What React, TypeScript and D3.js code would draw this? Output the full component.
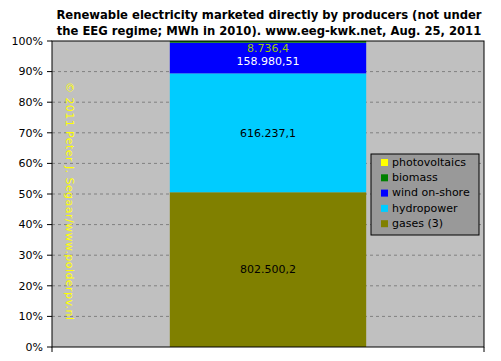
import React from 'react';
import * as d3 from 'd3';

// data (MWh in 2010)
const sources = ['gases (3)', 'hydropower', 'wind on-shore', 'biomass', 'photovoltaics'];
const values = [802500.2, 616237.1, 158980.51, 8736.4, 120];
const labels = ['802.500,2', '616.237,1', '158.980,51', '8.736,4', ''];
const colors = ['#808000', '#00ccff', '#0000ff', '#008000', '#ffff00'];
const labelColors = ['#000000', '#000000', '#ffffff', '#99cc00', '#000000'];
const yTicks = [0, 0.1, 0.2, 0.3, 0.4, 0.5, 0.6, 0.7, 0.8, 0.9, 1];
const titleLines = [
    'Renewable electricity marketed directly by producers (not under',
    'the EEG regime; MWh in 2010). www.eeg-kwk.net, Aug. 25, 2011',
];

export default function App() {
    const width = 501;
    const height = 361;
    const margin = { top: 41, right: 17, bottom: 14, left: 52 };
    const boundedWidth = width - margin.left - margin.right;
    const boundedHeight = height - margin.top - margin.bottom;
    const font = 'Verdana, "DejaVu Sans", sans-serif';

    const total = d3.sum(values);
    const yScale = d3.scaleLinear().domain([0, 1]).range([boundedHeight, 0]);
    const xScale = d3.scaleBand().domain(['2010']).range([0, boundedWidth]).paddingInner(0).paddingOuter(0.6);

    // stack the shares
    let acc = 0;
    const segments = values.map((v, i) => {
        const y0 = acc / total;
        acc += v;
        return { name: sources[i], y0, y1: acc / total, i };
    });

    const legendOrder = [...sources.keys()].reverse();

    return (
        <svg width={width} height={height} style={{ position: 'absolute', left: 0, top: 0, background: '#fff' }}>
            {titleLines.map((t, i) => (
                <text key={i} x={269} y={19 + i * 16} textAnchor="middle" fontFamily={font}
                    fontWeight="bold" fontSize="11.6" fill="#000">{t}</text>
            ))}
            <g transform={`translate(${margin.left}, ${margin.top})`}>
                <rect x={0} y={0} width={boundedWidth} height={boundedHeight} fill="#c0c0c0" />
                {/* grid lines */}
                {yTicks.slice(1, -1).map(t => (
                    <line key={t} x1={0} x2={boundedWidth} y1={yScale(t)} y2={yScale(t)}
                        stroke="#808080" strokeDasharray="3,3" />
                ))}
                {/* bar segments */}
                {segments.map(s => (
                    <rect key={s.name} x={xScale('2010')} width={xScale.bandwidth()}
                        y={yScale(s.y1)} height={yScale(s.y0) - yScale(s.y1)} fill={colors[s.i]} />
                ))}
                {/* data labels */}
                {segments.map(s => labels[s.i] ? (
                    <text key={s.name} x={xScale('2010') + xScale.bandwidth() / 2}
                        y={s.i === 3 ? yScale(s.y1) + 7 : s.i === 2 ? yScale(s.y0) - 12 : (yScale(s.y0) + yScale(s.y1)) / 2}
                        dy="0.35em" textAnchor="middle" fontFamily={font} fontSize="11"
                        fill={labelColors[s.i]}>{labels[s.i]}</text>
                ) : null)}
                {/* plot border */}
                <rect x={0} y={0} width={boundedWidth} height={boundedHeight} fill="none" stroke="#000" strokeWidth="1" />
                {/* y axis ticks */}
                {yTicks.map(t => (
                    <g key={t}>
                        <line x1={-5} x2={0} y1={yScale(t)} y2={yScale(t)} stroke="#000" />
                        <text x={-9} y={yScale(t)} dy="0.35em" textAnchor="end" fontFamily={font}
                            fontSize="11" fill="#000">{Math.round(t * 100)}%</text>
                    </g>
                ))}
                {/* x axis ticks */}
                {[0, boundedWidth].map(x => (
                    <line key={x} x1={x} x2={x} y1={boundedHeight} y2={boundedHeight + 5} stroke="#000" />
                ))}
                {/* watermark */}
                <text transform={`translate(14, 41) rotate(90)`} fontFamily={font}
                    fontSize="11" fill="#ffff00" textLength={238} lengthAdjust="spacing">© 2011 Peter J. Segaar/www.polderpv.nl</text>
            </g>
            {/* legend */}
            <g transform="translate(371, 154)">
                <rect x={0} y={0} width={108} height={81} fill="#999999" stroke="#000" />
                {legendOrder.map((k, j) => (
                    <g key={k} transform={`translate(0, ${8 + j * 15.3})`}>
                        <rect x={10} y={-3} width={7} height={7} fill={colors[k]} />
                        <text x={21} y={0} dy="0.35em" fontFamily={font} fontSize="11" fill="#000">{sources[k]}</text>
                    </g>
                ))}
            </g>
        </svg>
    );
}
